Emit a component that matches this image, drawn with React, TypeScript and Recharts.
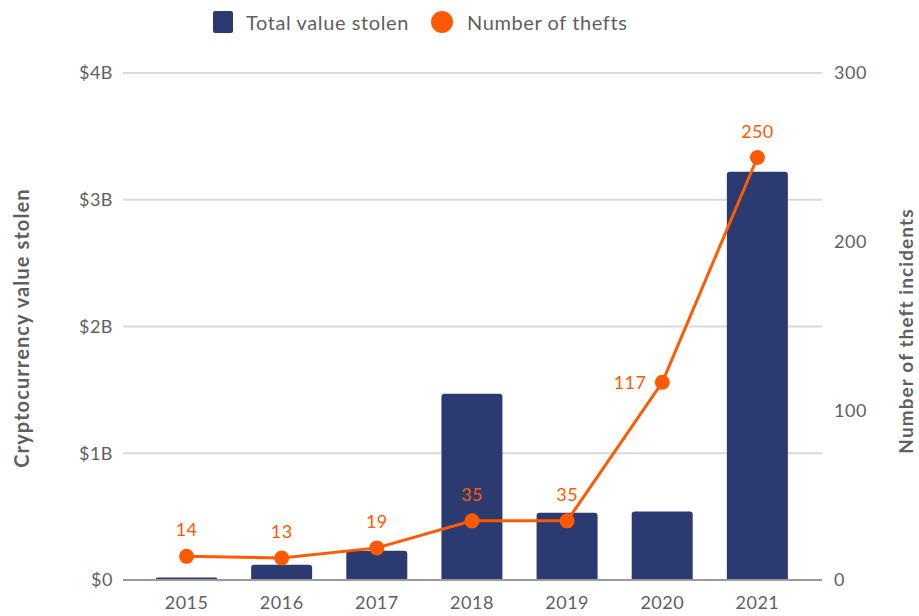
import React from 'react';
import { ComposedChart, Bar, Line, XAxis, YAxis, CartesianGrid, Legend, LabelList } from 'recharts';

const years = ['2015', '2016', '2017', '2018', '2019', '2020', '2021'];
const valueStolenB = [0.02, 0.12, 0.23, 1.47, 0.53, 0.54, 3.22];
const theftCounts = [14, 13, 19, 35, 35, 117, 250];
const leftTicks = [0, 1, 2, 3, 4];
const rightTicks = [0, 100, 200, 300];

const data = years.map((y, i) => ({ year: y, value: valueStolenB[i], thefts: theftCounts[i] }));

const NAVY = '#2b3a70';
const ORANGE = '#ff5a00';
const GRAY_TEXT = '#5f5f5f';
const FONT = 'Lato, "Open Sans", sans-serif';

const fmtLeft = (v: number) => (v === 0 ? '$0' : `$${v}B`);

const renderLegend = () => (
  <div style={{ display: 'flex', alignItems: 'center', fontFamily: FONT, fontSize: 20, letterSpacing: 0.6, color: GRAY_TEXT, whiteSpace: 'nowrap' }}>
    <span style={{ display: 'inline-block', width: 20, height: 22, background: NAVY, borderRadius: 2, marginRight: 13 }} />
    <span style={{ marginRight: 22 }}>Total value stolen</span>
    <span style={{ display: 'inline-block', width: 22, height: 22, background: ORANGE, borderRadius: '50%', marginRight: 14 }} />
    <span>Number of thefts</span>
  </div>
);

const TheftLabel = (props: any) => {
  const { x, y, value, index } = props;
  if (index === 5) {
    return (
      <text x={x - 16} y={y} textAnchor="end" dominantBaseline="central" fill={ORANGE} fontSize={18} letterSpacing={0.4} fontFamily={FONT}>
        {value}
      </text>
    );
  }
  return (
    <text x={x} y={y - 27} textAnchor="middle" dominantBaseline="central" fill={ORANGE} fontSize={18} letterSpacing={0.4} fontFamily={FONT}>
      {value}
    </text>
  );
};

const LeftTitle = () => {
  const cx = 21;
  const cy = 328;
  return (
    <text x={cx} y={cy} transform={`rotate(-90 ${cx} ${cy})`} textAnchor="middle" dominantBaseline="central" fill={GRAY_TEXT} fontSize={20} letterSpacing={1.1} fontWeight={700} fontFamily={FONT}>
      Cryptocurrency value stolen
    </text>
  );
};

const RightTitle = () => {
  const cx = 905;
  const cy = 331;
  return (
    <text x={cx} y={cy} transform={`rotate(-90 ${cx} ${cy})`} textAnchor="middle" dominantBaseline="central" fill={GRAY_TEXT} fontSize={19} letterSpacing={1.1} fontWeight={700} fontFamily={FONT}>
      Number of theft incidents
    </text>
  );
};

const tickStyle = { fill: GRAY_TEXT, fontSize: 18, fontFamily: FONT, letterSpacing: 0.5 };

export default function App() {
  return (
    <div style={{ position: 'absolute', left: 0, top: 0, width: 919, height: 616, background: '#fff' }}>
      <ComposedChart width={919} height={616} data={data} margin={{ top: 73, right: 0, bottom: 0, left: 0 }}>
        <CartesianGrid yAxisId="left" vertical={false} stroke="#dadada" strokeWidth={2} />
        <XAxis
          dataKey="year"
          height={36}
          padding={{ left: 16, right: 17 }}
          axisLine={{ stroke: '#9a9a9a', strokeWidth: 2 }}
          tickLine={false}
          tickSize={0}
          tickMargin={16}
          tick={tickStyle}
        />
        <YAxis
          yAxisId="left"
          width={123}
          domain={[0, 4]}
          ticks={leftTicks}
          tickFormatter={fmtLeft}
          axisLine={false}
          tickLine={false}
          tickSize={0}
          tickMargin={10}
          tick={tickStyle}
          label={<LeftTitle />}
        />
        <YAxis
          yAxisId="right"
          orientation="right"
          width={97}
          domain={[0, 300]}
          ticks={rightTicks}
          axisLine={false}
          tickLine={false}
          tickSize={0}
          tickMargin={12}
          tick={tickStyle}
          label={<RightTitle />}
        />
        <Legend
          layout="horizontal"
          verticalAlign="middle"
          align="center"
          content={renderLegend}
          wrapperStyle={{ top: 10, left: 213, width: 480, height: 24 }}
        />
        <Bar yAxisId="left" dataKey="value" name="Total value stolen" fill={NAVY} barSize={61} radius={[3, 3, 0, 0]} isAnimationActive={false} />
        <Line
          yAxisId="right"
          dataKey="thefts"
          name="Number of thefts"
          type="linear"
          stroke={ORANGE}
          strokeWidth={3}
          dot={{ r: 7.5, fill: ORANGE, stroke: ORANGE, strokeWidth: 0 }}
          activeDot={false}
          isAnimationActive={false}
        >
          <LabelList dataKey="thefts" content={<TheftLabel />} />
        </Line>
      </ComposedChart>
    </div>
  );
}
